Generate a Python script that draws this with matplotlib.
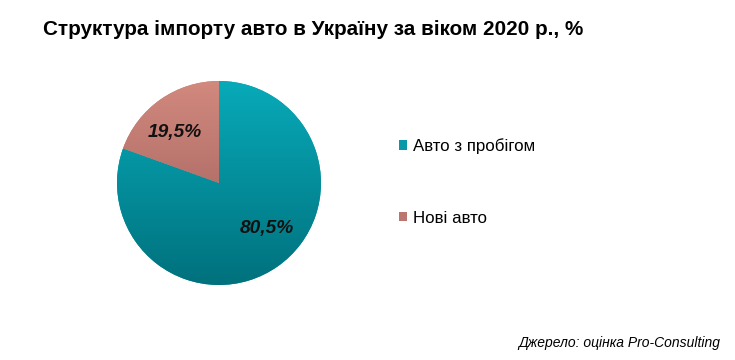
import matplotlib
matplotlib.use("Agg")
import matplotlib.pyplot as plt
import numpy as np
from matplotlib.colors import LinearSegmentedColormap
from matplotlib.patches import Patch

plt.rcParams['font.family'] = ['Liberation Sans', 'DejaVu Sans']

title = "Структура імпорту авто в Україну за віком 2020 р., %"
categories = ["Авто з пробігом", "Нові авто"]
values = [80.5, 19.5]
value_labels = ["80,5%", "19,5%"]
colors_top = ["#08aab9", "#d2897e"]
colors_bottom = ["#00717d", "#975a56"]
colors_mid = ["#0898a7", "#bb766f"]
source = "Джерело: оцінка Pro-Consulting"

W, H = 735, 360
fig = plt.figure(figsize=(W / 100, H / 100), dpi=100)
fig.patch.set_facecolor("white")

cx, cy, r = 219, 183, 102
ax = fig.add_axes([(cx - r) / W, (H - cy - r) / H, 2 * r / W, 2 * r / H])
wedges, _ = ax.pie(values, startangle=90, counterclock=False, radius=1,
                   colors=colors_mid, wedgeprops=dict(linewidth=0))
ax.set_xlim(-1, 1)
ax.set_ylim(-1, 1)
ax.set_aspect("equal")
ax.axis("off")

grad = np.linspace(1, 0, 256).reshape(-1, 1)
for w, ct, cb in zip(wedges, colors_top, colors_bottom):
    cmap = LinearSegmentedColormap.from_list("g", [cb, ct])
    im = ax.imshow(grad, extent=[-1, 1, -1, 1], cmap=cmap, origin="upper",
                   aspect="auto", zorder=w.get_zorder() + 0.1)
    im.set_clip_path(w)

# label positions (axes data coords)
label_pos = [(0.47, -0.45), (-0.43, 0.50)]
for (x, y), t in zip(label_pos, value_labels):
    ax.text(x, y, t, ha="center", va="center", fontsize=13.8,
            fontweight="bold", fontstyle="italic", color="#111111", zorder=10)

fig.text(43 / W, 1 - 35 / H, title, fontsize=14.85, fontweight="bold",
         ha="left", va="baseline", color="#000000")

handles = [Patch(facecolor=c, edgecolor="none") for c in colors_mid]
leg = fig.legend(handles, categories, loc="upper left",
                 bbox_to_anchor=(399 / W, 1 - 138 / H), frameon=False,
                 fontsize=12.2, labelspacing=3.35, handlelength=0.5,
                 handleheight=0.5, handletextpad=0.35, borderpad=0,
                 borderaxespad=0)

fig.text(720 / W, 1 - 347 / H, source, fontsize=10, fontstyle="italic",
         ha="right", va="baseline", color="#000000")

fig.savefig("out.png", dpi=100)
